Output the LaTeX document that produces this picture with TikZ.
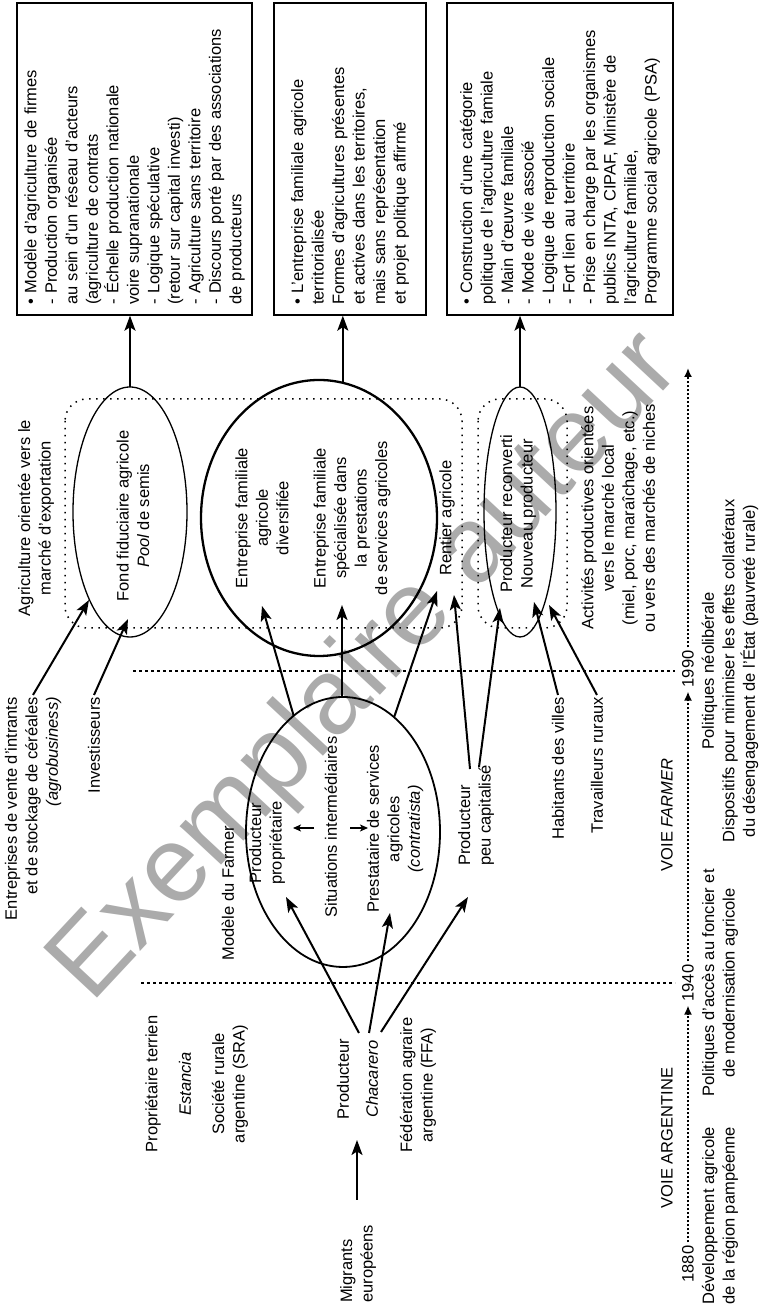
\documentclass[tikz,border=0pt]{standalone}
\usepackage{fontspec}
\setmainfont{Liberation Sans}
\usetikzlibrary{arrows.meta,shapes.geometric}
\newcommand\myfs{\fontsize{16.5}{20.5}\selectfont}
\begin{document}
\begin{tikzpicture}[x=1pt,y=1pt,
  txt/.style={font=\myfs, align=center, inner sep=0pt},
  arr/.style={line width=2pt, -{Stealth[length=15pt,width=11pt,inset=3.5pt]}},
  sarr/.style={line width=1.4pt, -{Stealth[length=8pt,width=7pt,inset=2pt]}},
  ell/.style={draw, ellipse, inner sep=0pt, outer sep=0pt},
  boxs/.style={draw, line width=1.4pt, font=\myfs, align=left, text width=292pt, inner xsep=10pt, inner ysep=0pt},
  grp/.style={draw, line width=1.5pt, dash pattern=on 1.5pt off 5.5pt, rounded corners=22pt, inner sep=0pt},
  divl/.style={line width=2.6pt, dash pattern=on 3pt off 3pt},
  tl/.style={line width=2.4pt, dash pattern=on 2pt off 2pt, -{Latex[length=9pt,width=8pt]}},
]
\useasboundingbox (0,0) rectangle (761,1311);
% watermark
\node[rotate=47, anchor=base west, text=black!33, font=\fontsize{107}{107}\selectfont, inner sep=0pt] (wm) at (91,306) {Exemplaire auteur};

\begin{scope}[rotate=90, transform shape]
% ---------- left column
\node[txt, align=left, anchor=west] (mig) at (8,-358) {Migrants\\européens};
\node[txt] (prodA) at (232,-343) {Producteur};
\node[txt] (prodB) at (232,-372) {\textit{Chacarero}};
\node[txt] (prop) at (227,-153) {Propriétaire terrien};
\node[txt] (est) at (227,-185) {\textit{Estancia}};
\node[txt] (sra) at (227,-230) {Société rurale\\argentine (SRA)};
\node[txt] (ffa) at (226,-418) {Fédération agraire\\argentine (FFA)};
\coordinate (m1) at (111,-357);
\coordinate (m2) at (171,-357);
\draw[arr] (m1) -- (m2);

% ---------- Farmer ellipse
\node[ell, line width=1.8pt, minimum width=270, minimum height=194] (E4) at (479,-343) {};
\node[txt] (mf) at (418,-228) {Modèle du Farmer};
\node[txt] (pp) at (468,-267) {Producteur\\propriétaire};
\node[txt] (si) at (484,-331) {Situations intermédiaires};
\node[txt] (ps) at (482,-395) {Prestataire de services\\agricoles\\\textit{(contratista)}};
\coordinate (s1) at (483,-314);
\coordinate (s2) at (483,-293);
\coordinate (s3) at (483,-350);
\coordinate (s4) at (483,-368);
\draw[sarr] (s1) -- (s2);
\draw[sarr] (s3) -- (s4);

% Chacarero connectors
\coordinate (c1) at (278,-359);
\coordinate (c2) at (278,-369);
\coordinate (c3) at (279,-381);
\coordinate (e4a) at (414,-286);
\coordinate (e4b) at (398,-390);
\coordinate (pcin) at (414,-468);
\draw[arr] (c1) -- (e4a);
\draw[arr] (c2) -- (e4b);
\draw[arr] (c3) -- (pcin);

% peu capitalisé and other sources
\node[txt, align=left, anchor=west] (pc) at (445,-476) {Producteur\\peu capitalisé};
\node[txt, anchor=east] (hab) at (614,-558) {Habitants des villes};
\node[txt, anchor=east] (trav) at (614,-597) {Travailleurs ruraux};
\node[txt, align=right, anchor=east] (ent) at (614,-33) {Entreprises de vente d’intrants\\et de stockage de céréales\\\textit{(agrobusiness)}};
\node[txt, anchor=east] (inv) at (614,-94) {Investisseurs};

% ---------- dividers
\coordinate (d1a) at (640,-133);
\coordinate (d1b) at (640,-675);
\coordinate (d2a) at (328,-141);
\coordinate (d2b) at (328,-675);
\draw[divl] (d1a) -- (d1b);
\draw[divl] (d2a) -- (d2b);

% ---------- groups and right ellipses
\node[grp, minimum width=229, minimum height=397] (G1) at (797.5,-263.5) {};
\node[grp, minimum width=229, minimum height=89] (G2) at (797.5,-522.5) {};
\node[ell, line width=1.3pt, minimum width=250, minimum height=114] (E1) at (799,-130) {};
\node[ell, line width=2.3pt, minimum width=276, minimum height=236] (E2) at (793,-319) {};
\node[ell, line width=1.3pt, minimum width=250, minimum height=72] (E3) at (799,-520) {};

\node[txt] (agr) at (793,-36) {Agriculture orientée vers le\\marché d’exportation};
\node[txt] (fond) at (795,-133) {Fond fiduciaire agricole\\\textit{Pool} de semis};
\node[txt] (efd) at (793,-262) {Entreprise familiale\\agricole\\diversifiée};
\node[txt] (efs) at (793,-352) {Entreprise familiale\\spécialisée dans\\la prestations\\de services agricoles};
\node[txt] (rent) at (793,-447) {Rentier agricole};
\node[txt] (prc) at (797,-518) {Producteur reconverti\\Nouveau producteur};
\node[txt] (act) at (793,-618) {Activités productives orientées\\vers le marché local\\(miel, porc, maraîchage, etc.)\\ou vers des marchés de niches};

% connectors into the right column
\coordinate (t1) at (705,-262);
\coordinate (t2) at (706,-342);
\coordinate (t3) at (720,-437);
\draw[arr] (E4.23) -- (t1);
\draw[arr] (E4.east |- t2) -- (t2);
\draw[arr] (E4.-24) -- (t3);
\coordinate (p1) at (542,-470);
\coordinate (p2) at (544,-479);
\coordinate (t4) at (716,-454);
\coordinate (t5) at (703,-500);
\draw[arr] (p1) -- (t4);
\draw[arr] (p2) -- (t5);
\coordinate (t6) at (709,-534);
\coordinate (t7) at (706,-549);
\draw[arr] ([xshift=2pt]hab.east) -- (t6);
\draw[arr] ([xshift=2pt]trav.east) -- (t7);
\coordinate (t8) at (711,-89);
\coordinate (t9) at (692,-128);
\draw[arr] ([xshift=2pt]ent.east) -- (t8);
\draw[arr] ([xshift=2pt]inv.east) -- (t9);

% ---------- boxes
\node[boxs, minimum height=235] (B1) at (1152,-134.5) {• Modèle d’agriculture de firmes\\
- Production organisée\\
au sein d’un réseau d’acteurs\\
(agriculture de contrats\\
- Échelle production nationale\\
voire supranationale\\
- Logique spéculative\\
(retour sur capital investi)\\
- Agriculture sans territoire\\
- Discours porté par des associations\\
de producteurs};
\node[boxs, minimum height=152] (B2) at (1152,-350) {• L’entreprise familiale agricole\\
territorialisée\\
Formes d’agricultures présentes\\
et actives dans les territoires,\\
mais sans représentation\\
et projet politique affirmé};
\node[boxs, minimum height=226] (B3) at (1152,-560) {• Construction d’une catégorie\\
politique de l’agriculture famiale\\
- Main d’œuvre familiale\\
- Mode de vie associé\\
- Logique de reproduction sociale\\
- Fort lien au territoire\\
- Prise en charge par les organismes\\
publics INTA, CIPAF, Ministère de\\
l’agriculture familiale,\\
Programme social agricole (PSA)};
\draw[arr] (E1.east) -- (E1.east -| B1.west);
\draw[arr] (E2.-10) -- (E2.-10 -| B2.west);
\draw[arr] (E3.east) -- (E3.east -| B3.west);

% ---------- timeline
\node[txt] (t1880) at (47,-688) {1880};
\node[txt] (t1940) at (328,-688) {1940};
\node[txt] (t1990) at (642,-688) {1990};
\coordinate (tend) at (943,-688);
\draw[tl] ([xshift=3pt]t1880.east) -- ([xshift=-4pt]t1940.west);
\draw[tl] ([xshift=3pt]t1940.east) -- ([xshift=-4pt]t1990.west);
\draw[tl] ([xshift=3pt]t1990.east) -- (tend);
\node[txt] (va) at (173,-667) {VOIE ARGENTINE};
\node[txt] (vf) at (496,-667) {VOIE \textit{FARMER}};
\node[txt, align=left, anchor=west] (dev) at (6,-720) {Développement agricole\\de la région pampéenne};
\node[txt] (pol1) at (328,-720) {Politiques d’accès au foncier et\\de modernisation agricole};
\node[txt] (pol2) at (640,-730) {Politiques néolibérale\\Dispositifs pour minimiser les effets collatéraux\\du désengagement de l’État (pauvreté rurale)};
\end{scope}
\end{tikzpicture}
\end{document}
